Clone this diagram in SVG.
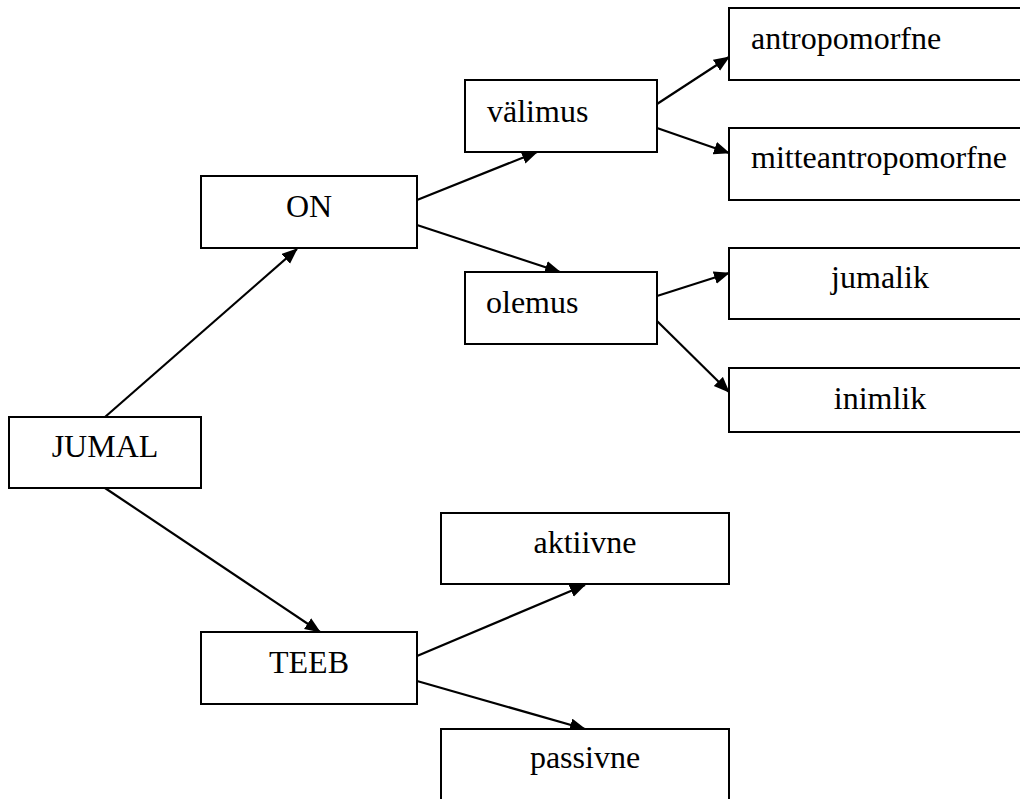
<svg xmlns="http://www.w3.org/2000/svg" width="1020" height="799" viewBox="0 0 1020 799">
<style>
.box{fill:#fff;stroke:#000;stroke-width:2}
.lbl{font-family:"Liberation Serif","Times New Roman",serif;font-size:32px;fill:#000}
.c{text-anchor:middle}
.edge{stroke:#000;stroke-width:2.2;fill:none;marker-end:url(#ah)}
</style>
<defs>
<marker id="ah" markerUnits="userSpaceOnUse" markerWidth="17" markerHeight="14" refX="15" refY="6.5" orient="auto">
<path d="M0,0 L16,6.5 L0,13 z" fill="#000"/>
</marker>
</defs>
<rect width="1020" height="799" fill="#fff"/>
<g id="connectors">
<line class="edge" x1="105" y1="417" x2="297" y2="249"/>
<line class="edge" x1="105" y1="488" x2="320" y2="632"/>
<line class="edge" x1="417" y1="200" x2="537" y2="152"/>
<line class="edge" x1="417" y1="225" x2="560" y2="272"/>
<line class="edge" x1="657" y1="104" x2="729" y2="57"/>
<line class="edge" x1="657" y1="128" x2="729" y2="153"/>
<line class="edge" x1="657" y1="296" x2="729" y2="273"/>
<line class="edge" x1="657" y1="321" x2="729" y2="392"/>
<line class="edge" x1="417" y1="656" x2="585" y2="585"/>
<line class="edge" x1="417" y1="681" x2="585" y2="729"/>
</g>
<g id="n-antropomorfne"><rect class="box" x="729" y="8" width="302" height="72"/><text class="lbl" x="751" y="49">antropomorfne</text></g>
<g id="n-valimus"><rect class="box" x="465" y="80" width="192" height="72"/><text class="lbl" x="487" y="122">välimus</text></g>
<g id="n-mitteantropomorfne"><rect class="box" x="729" y="128" width="302" height="72"/><text class="lbl" x="751" y="168">mitteantropomorfne</text></g>
<g id="n-on"><rect class="box" x="201" y="176" width="216" height="72"/><text class="lbl c" x="309" y="217">ON</text></g>
<g id="n-olemus"><rect class="box" x="465" y="272" width="192" height="72"/><text class="lbl" x="486" y="313">olemus</text></g>
<g id="n-jumalik"><rect class="box" x="729" y="248" width="302" height="71"/><text class="lbl c" x="880" y="288">jumalik</text></g>
<g id="n-inimlik"><rect class="box" x="729" y="368" width="302" height="64"/><text class="lbl c" x="880" y="409">inimlik</text></g>
<g id="n-jumal"><rect class="box" x="9" y="417" width="192" height="71"/><text class="lbl c" x="105" y="457">JUMAL</text></g>
<g id="n-aktiivne"><rect class="box" x="441" y="513" width="288" height="71"/><text class="lbl c" x="585" y="553">aktiivne</text></g>
<g id="n-teeb"><rect class="box" x="201" y="632" width="216" height="72"/><text class="lbl c" x="309" y="673">TEEB</text></g>
<g id="n-passivne"><rect class="box" x="441" y="729" width="288" height="80"/><text class="lbl c" x="585" y="768">passivne</text></g>
</svg>
